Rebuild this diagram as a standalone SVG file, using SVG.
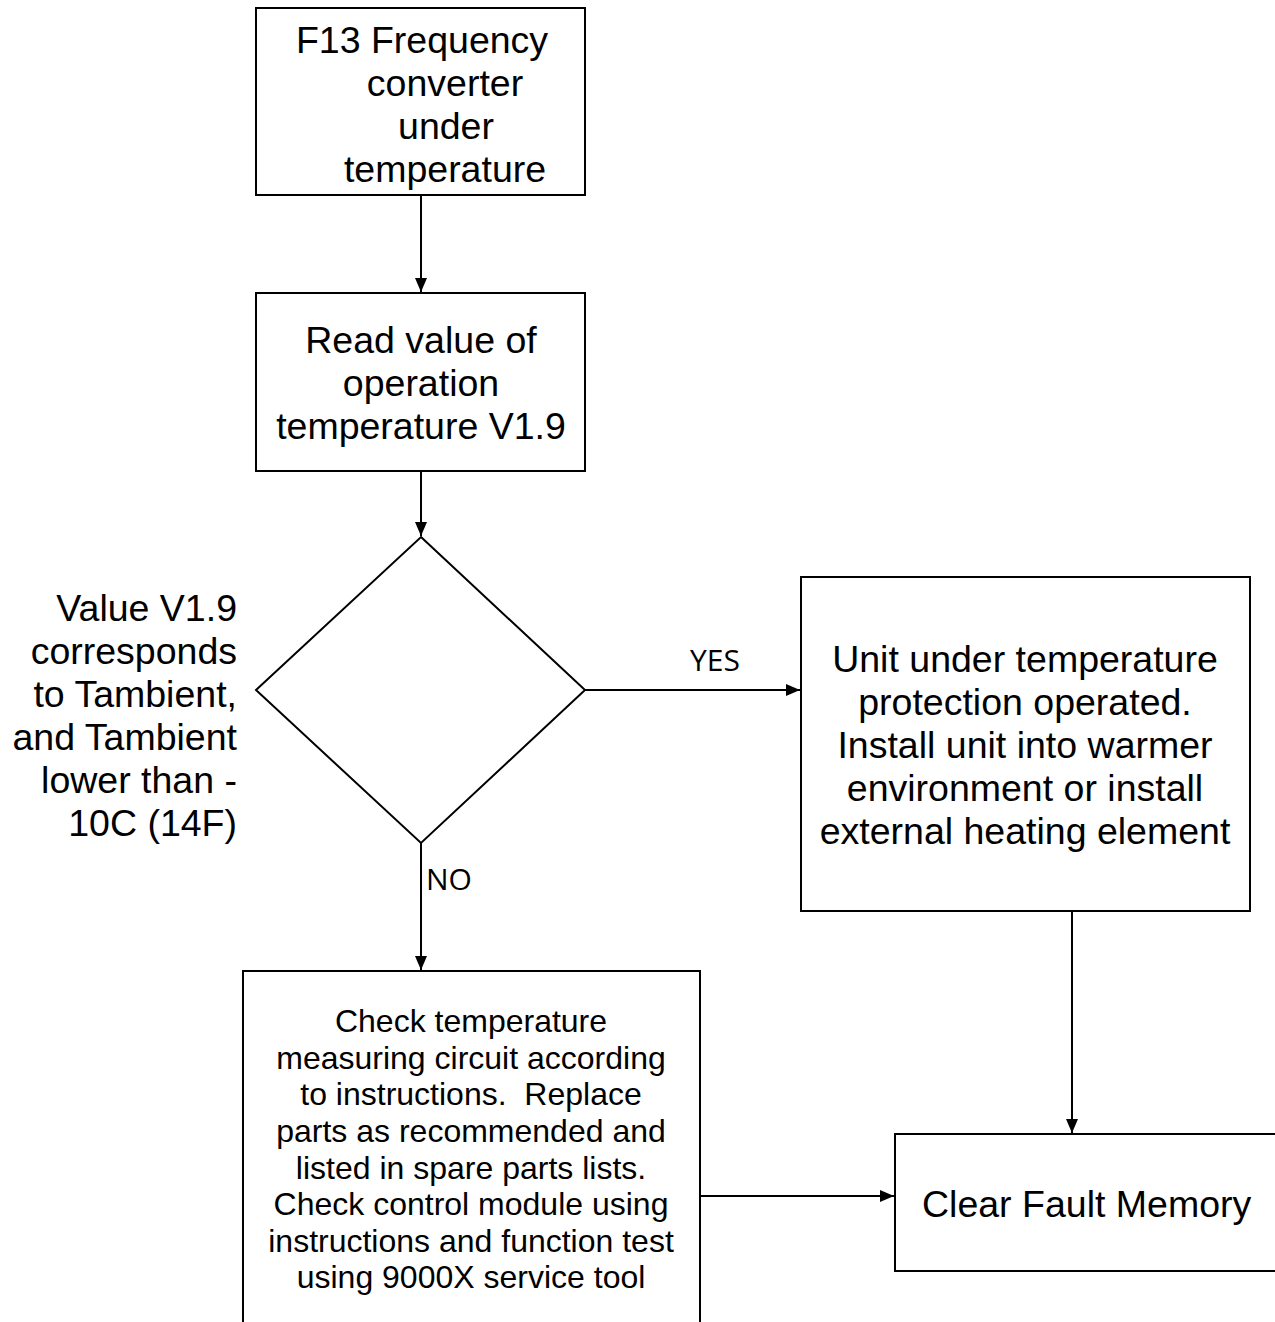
<svg xmlns="http://www.w3.org/2000/svg" width="1275" height="1322" viewBox="0 0 1275 1322">
<style>
.box{fill:#fff;stroke:#000;stroke-width:2}
.t{font-family:"Liberation Sans",Arial,sans-serif;font-size:37.5px;fill:#000}
.s{font-family:"Liberation Sans",Arial,sans-serif;font-size:32px;fill:#000}
.lbl{font-family:"Open Sans","Noto Sans",sans-serif;font-size:30px;fill:#000}
.c{fill:none;stroke:#000;stroke-width:2}
</style>
<defs>
<marker id="ah" markerWidth="14" markerHeight="12" refX="14" refY="6" orient="auto" markerUnits="userSpaceOnUse">
<path d="M0,0 L14,6 L0,12 Z" fill="#000"/>
</marker>
</defs>
<rect width="1275" height="1322" fill="#fff"/>
<g id="connectors">
<line class="c" x1="421" y1="195" x2="421" y2="292" marker-end="url(#ah)"/>
<line class="c" x1="421" y1="471" x2="421" y2="536" marker-end="url(#ah)"/>
<line class="c" x1="585" y1="690" x2="800" y2="690" marker-end="url(#ah)"/>
<line class="c" x1="421" y1="843" x2="421" y2="970" marker-end="url(#ah)"/>
<line class="c" x1="1072" y1="911" x2="1072" y2="1133" marker-end="url(#ah)"/>
<line class="c" x1="700" y1="1196" x2="894" y2="1196" marker-end="url(#ah)"/>
<text class="lbl" x="690" y="671">YES</text>
<text class="lbl" x="426" y="890">NO</text>
</g>
<g id="start">
<rect class="box" x="256" y="8" width="329" height="187"/>
<text class="t" x="422" y="53" text-anchor="middle">F13 Frequency</text>
<text class="t" x="445" y="96" text-anchor="middle">converter</text>
<text class="t" x="446" y="139" text-anchor="middle">under</text>
<text class="t" x="445" y="182" text-anchor="middle">temperature</text>
</g>
<g id="read">
<rect class="box" x="256" y="293" width="329" height="178"/>
<text class="t" x="421" y="353" text-anchor="middle">Read value of</text>
<text class="t" x="421" y="396" text-anchor="middle">operation</text>
<text class="t" x="421" y="439" text-anchor="middle">temperature V1.9</text>
</g>
<g id="decision">
<polygon class="box" points="421,537 585,690 421,843 256,690"/>
<text class="t" text-anchor="end"><tspan x="237" y="621">Value V1.9</tspan><tspan x="237" y="664">corresponds</tspan><tspan x="237" y="707">to Tambient,</tspan><tspan x="237" y="750">and Tambient</tspan><tspan x="237" y="793">lower than -</tspan><tspan x="237" y="836">10C (14F)</tspan></text>
</g>
<g id="protection">
<rect class="box" x="801" y="577" width="449" height="334"/>
<text class="t" text-anchor="middle"><tspan x="1025" y="672">Unit under temperature</tspan><tspan x="1025" y="715">protection operated.</tspan><tspan x="1025" y="758">Install unit into warmer</tspan><tspan x="1025" y="801">environment or install</tspan><tspan x="1025" y="844">external heating element</tspan></text>
</g>
<g id="check">
<rect class="box" x="243" y="971" width="457" height="400"/>
<text class="s" text-anchor="middle"><tspan x="471" y="1032">Check temperature</tspan><tspan x="471" y="1069">measuring circuit according</tspan><tspan x="471" y="1105">to instructions.&#160; Replace</tspan><tspan x="471" y="1142">parts as recommended and</tspan><tspan x="471" y="1179">listed in spare parts lists.</tspan><tspan x="471" y="1215">Check control module using</tspan><tspan x="471" y="1252">instructions and function test</tspan><tspan x="471" y="1288">using 9000X service tool</tspan></text>
</g>
<g id="clear">
<rect class="box" x="895" y="1134" width="420" height="137"/>
<text class="t" x="922" y="1217">Clear Fault Memory</text>
</g>
</svg>
